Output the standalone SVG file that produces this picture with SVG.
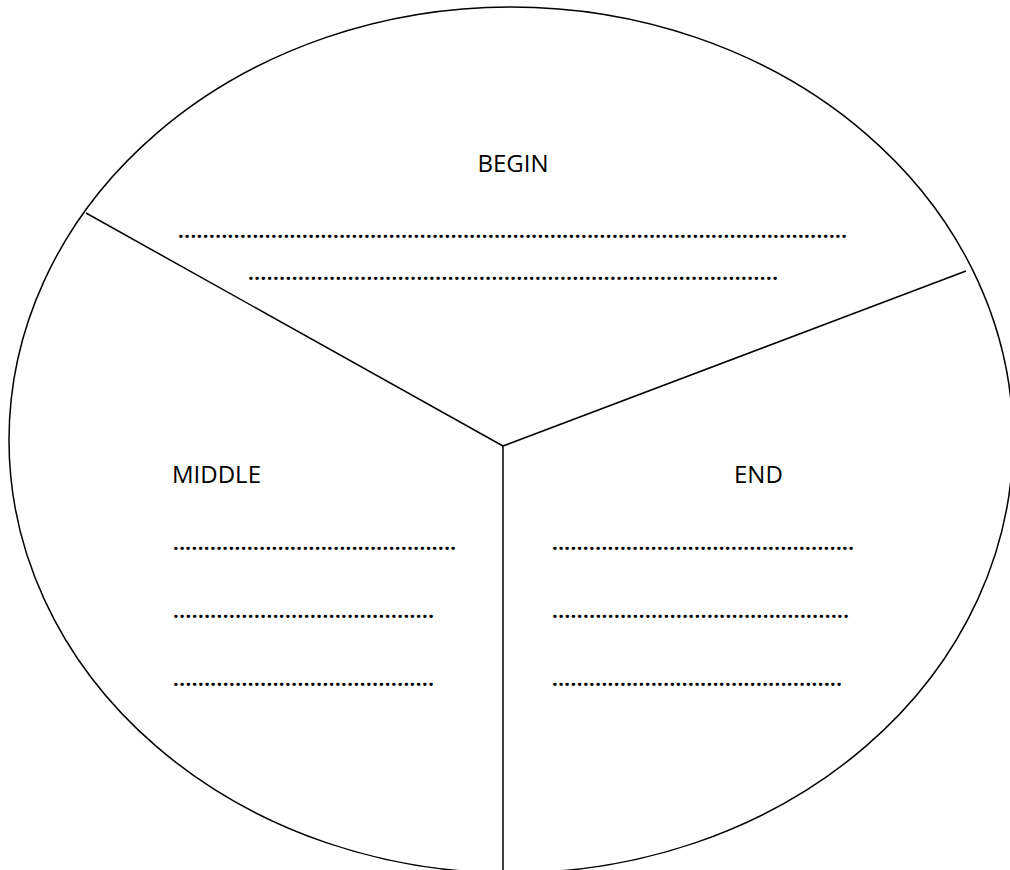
<svg xmlns="http://www.w3.org/2000/svg" width="1010" height="870" viewBox="0 0 1010 870">
  <style>
    .shape { fill: none; stroke: #000; stroke-width: 1.5; }
    .label { font-family: "Open Sans", "Liberation Sans", sans-serif; font-size: 24px; fill: #000; }
    .dots { font-family: "Open Sans", "Liberation Sans", sans-serif; font-size: 20px; font-weight: bold; fill: #000; }
  </style>
  <rect width="1010" height="870" fill="#fff"/>
  <g id="outline">
    <ellipse class="shape" cx="511" cy="440" rx="502" ry="433"/>
  </g>
  <g id="connectors">
    <line class="shape" x1="86" y1="213" x2="503" y2="446"/>
    <line class="shape" x1="966" y1="271" x2="503" y2="446"/>
    <line class="shape" x1="503" y1="446" x2="503" y2="870"/>
  </g>
  <g id="begin">
    <text class="label" x="513" y="172" text-anchor="middle">BEGIN</text>
    <text class="dots" x="178" y="238" textLength="669" lengthAdjust="spacing">............................................................................................................</text>
    <text class="dots" x="248" y="280" textLength="530" lengthAdjust="spacing">.....................................................................................</text>
  </g>
  <g id="middle">
    <text class="label" x="172" y="483">MIDDLE</text>
    <text class="dots" x="173" y="550" textLength="283" lengthAdjust="spacing">..............................................</text>
    <text class="dots" x="173" y="618" textLength="261" lengthAdjust="spacing">..........................................</text>
    <text class="dots" x="173" y="686" textLength="261" lengthAdjust="spacing">..........................................</text>
  </g>
  <g id="end">
    <text class="label" x="734" y="483">END</text>
    <text class="dots" x="552" y="550" textLength="302" lengthAdjust="spacing">.................................................</text>
    <text class="dots" x="552" y="618" textLength="297" lengthAdjust="spacing">................................................</text>
    <text class="dots" x="552" y="686" textLength="290" lengthAdjust="spacing">...............................................</text>
  </g>
</svg>
